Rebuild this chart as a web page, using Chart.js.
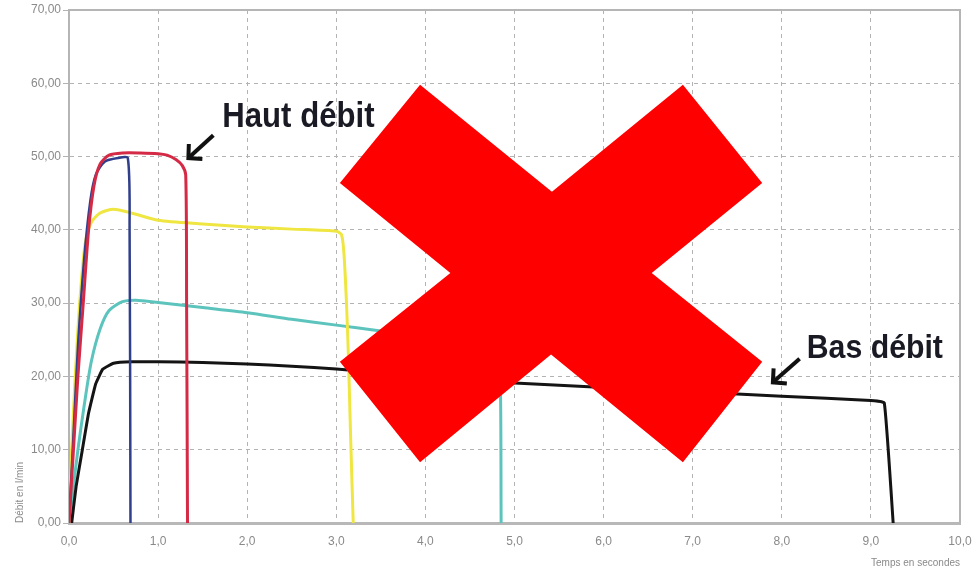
<!DOCTYPE html>
<html><head><meta charset="utf-8">
<script src="https://cdn.jsdelivr.net/npm/chart.js@4.4.0/dist/chart.umd.min.js"></script>
<style>html,body{margin:0;padding:0;background:#fff}#wrap{width:976px;height:570px}</style>
</head><body><div id="wrap"><canvas id="c" width="976" height="570"></canvas></div>
<script>
// ---- data (time in s, flow in l/min) ----
const xTickValues = [0,1,2,3,4,5,6,7,8,9,10];
const xTickLabels = ['0,0','1,0','2,0','3,0','4,0','5,0','6,0','7,0','8,0','9,0','10,0'];
const yTickValues = [0,10,20,30,40,50,60,70];
const yTickLabels = ['0,00','10,00','20,00','30,00','40,00','50,00','60,00','70,00'];

const redTime  = [0.00,0.05,0.10,0.16,0.22,0.28,0.35,0.45,0.60,0.80,1.00,1.10,1.20,1.27,1.31,1.32,1.33];
const redFlow  = [0,10,20,30,40,46,49,50.2,50.5,50.5,50.4,50.2,49.6,48.8,47.5,30,0];
const blueTime = [0.00,0.05,0.10,0.17,0.24,0.30,0.40,0.55,0.66,0.68,0.69];
const blueFlow = [0,12,24,36,44,47.5,49.3,49.8,49.8,40,0];
const yellowTime = [0.00,0.03,0.07,0.12,0.18,0.25,0.35,0.50,0.70,1.00,1.50,2.00,2.50,3.00,3.06,3.09,3.13,3.16,3.19];
const yellowFlow = [0,10,20,30,38,41,42.3,42.8,42.3,41.3,40.8,40.4,40.1,39.8,39.3,36,25,12,0];
const blackTime = [0.03,0.08,0.15,0.22,0.30,0.38,0.50,0.70,1.00,1.50,2.00,2.50,3.00,4.00,5.00,6.00,7.00,8.00,9.00,9.15,9.25];
const blackFlow = [0,5,10,15,19,21,21.8,22,22,21.9,21.7,21.4,21,20,19.1,18.5,17.9,17.3,16.7,16.4,0];
const cyanTime = [0.00,0.05,0.10,0.17,0.25,0.35,0.45,0.60,0.75,1.00,1.50,2.00,2.50,3.00,3.50,4.00,4.50,4.80,4.84,4.85];
const cyanFlow = [0,5,10,16,22,26.5,29,30.2,30.4,30.1,29.4,28.7,27.8,27.0,26.2,25.5,24.9,24.5,20,0];

// overlay drawings, in data units
const crossOutline = [[3.04,46.4],[3.94,59.8],[5.42,45.2],[6.89,59.8],[7.78,46.4],[6.54,34.1],
                      [7.78,22.0],[6.89,8.3],[5.41,23.0],[3.94,8.3],[3.04,22.0],[4.28,34.1]];
const noteTexts   = ['Haut débit','Bas débit'];
const noteAnchors = [[1.72,54.0],[8.28,22.5]];
const noteSizes   = [35,34];
const arrowTails  = [[1.62,52.9],[8.20,22.4]];
const arrowTips   = [[1.34,49.8],[7.90,19.2]];

function pts(t, v){ return t.map((x,i)=>({x:x, y:v[i]})); }

const overlayPlugin = {
  id:'overlay',
  beforeDatasetsDraw(chart){
    const {ctx, chartArea:a} = chart;
    ctx.save();
    ctx.strokeStyle = '#b5b5b5'; ctx.lineWidth = 2;
    ctx.beginPath();
    ctx.moveTo(a.left, a.bottom); ctx.lineTo(a.left, a.top);
    ctx.lineTo(a.right, a.top); ctx.lineTo(a.right, a.bottom);
    ctx.stroke();
    ctx.restore();
  },
  afterDatasetsDraw(chart){
    const {ctx, scales:{x, y}} = chart;
    const P = p => [x.getPixelForValue(p[0]), y.getPixelForValue(p[1])];
    ctx.save();
    // red cross
    ctx.fillStyle = '#ff0000';
    ctx.beginPath();
    crossOutline.forEach((p,i)=>{ const q=P(p); i?ctx.lineTo(q[0],q[1]):ctx.moveTo(q[0],q[1]); });
    ctx.closePath(); ctx.fill();
    // arrows
    ctx.strokeStyle = '#111'; ctx.lineWidth = 4; ctx.lineCap='butt'; ctx.lineJoin='miter';
    arrowTails.forEach((t,i)=>{
      const a = P(t), b = P(arrowTips[i]);
      const ang = Math.atan2(a[1]-b[1], a[0]-b[0]);
      const L = 14;
      ctx.beginPath(); ctx.moveTo(a[0],a[1]); ctx.lineTo(b[0],b[1]); ctx.stroke();
      ctx.beginPath();
      ctx.moveTo(b[0]+L*Math.cos(ang-0.8), b[1]+L*Math.sin(ang-0.8));
      ctx.lineTo(b[0],b[1]);
      ctx.lineTo(b[0]+L*Math.cos(ang+0.8), b[1]+L*Math.sin(ang+0.8));
      ctx.stroke();
    });
    // notes (condensed look)
    ctx.fillStyle = '#1a1a24'; ctx.textAlign='left'; ctx.textBaseline='alphabetic';
    noteTexts.forEach((s,i)=>{
      const q = P(noteAnchors[i]);
      ctx.save();
      ctx.translate(q[0], q[1]);
      ctx.scale(0.89, 1);
      ctx.font = 'bold '+noteSizes[i]+'px "Liberation Sans",Arial,sans-serif';
      ctx.fillText(s, 0, 0);
      ctx.restore();
    });
    ctx.restore();
  }
};

const gridColor = '#b3b3b3';
new Chart(document.getElementById('c'), {
  type:'scatter',
  data:{ datasets:[
    {label:'rouge', data:pts(redTime,redFlow), borderColor:'#d42a45', borderWidth:3},
    {label:'bleu', data:pts(blueTime,blueFlow), borderColor:'#303f8c', borderWidth:2.5},
    {label:'jaune', data:pts(yellowTime,yellowFlow), borderColor:'#efe642', borderWidth:3},
    {label:'noir', data:pts(blackTime,blackFlow), borderColor:'#141414', borderWidth:3, tension:0.1},
    {label:'cyan', data:pts(cyanTime,cyanFlow), borderColor:'#5cc4bd', borderWidth:3}
  ].map(d=>Object.assign({showLine:true, pointRadius:0, tension:0.25, fill:false}, d))},
  options:{
    responsive:false, animation:false, devicePixelRatio:1,
    layout:{padding:{left:10, top:10, right:16, bottom:1}},
    plugins:{legend:{display:false}, tooltip:{enabled:false}},
    scales:{
      x:{type:'linear', min:0, max:10,
        afterBuildTicks(s){ s.ticks = xTickValues.map(v=>({value:v})); },
        afterFit(s){ s.height = 46; s.paddingLeft = 0; s.paddingRight = 0; },
        ticks:{padding:11, color:'#8a8a8a', font:{family:'"Liberation Sans",Arial,sans-serif', size:12},
          callback:(v)=>xTickLabels[xTickValues.indexOf(v)]},
        grid:{drawTicks:false, lineWidth:1,
          color:c=>(c.tick && (c.tick.value===0||c.tick.value===10))?'rgba(0,0,0,0)':gridColor},
        border:{display:true, color:'#b8b8b8', width:3, dash:[4,4]},
        title:{display:true, text:'Temps en secondes', align:'end', color:'#8a8a8a', padding:0,
          font:{family:'"Liberation Sans",Arial,sans-serif', size:10}}
      },
      y:{type:'linear', min:0, max:70,
        afterBuildTicks(s){ s.ticks = yTickValues.map(v=>({value:v})); },
        afterFit(s){ s.width = 59; s.paddingTop = 0; s.paddingBottom = 0; },
        ticks:{padding:2, color:'#8a8a8a', font:{family:'"Liberation Sans",Arial,sans-serif', size:12},
          callback:(v)=>yTickLabels[yTickValues.indexOf(v)]},
        grid:{drawTicks:true, tickLength:6, tickColor:gridColor, lineWidth:1,
          color:c=>(c.tick && (c.tick.value===0||c.tick.value===70))?'rgba(0,0,0,0)':gridColor},
        border:{display:true, color:'#b5b5b5', width:2, dash:[4,4]},
        title:{display:true, text:'Débit en l/min', align:'start', color:'#8a8a8a', padding:{top:4,bottom:0},
          font:{family:'"Liberation Sans",Arial,sans-serif', size:10}}
      }
    }
  },
  plugins:[overlayPlugin]
});
</script></body></html>
